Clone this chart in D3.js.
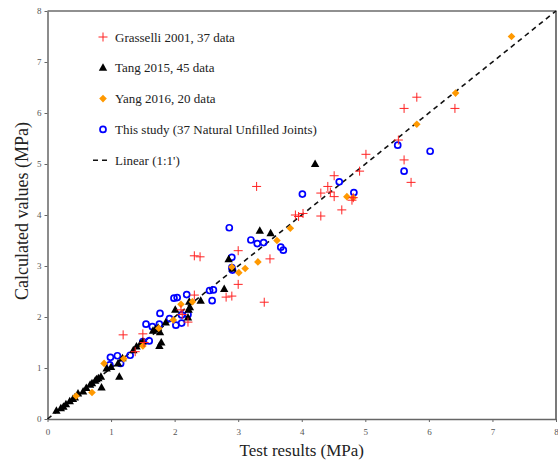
<!DOCTYPE html>
<html>
<head>
<meta charset="utf-8">
<script src="https://cdn.jsdelivr.net/npm/d3@7"></script>
<style>
  body { margin: 0; background: #fff; }
  svg { display: block; }
  svg text { font-family: 'Liberation Serif', serif; }
</style>
</head>
<body>
<svg id="chart" width="558" height="463"></svg>
<script>
// data (test result, calculated value) in MPa
const grasselli = [
  [5.81, 6.31], [5.61, 6.09], [6.41, 6.09], [5.52, 5.47], [5.01, 5.19], [5.61, 5.08],
  [4.91, 4.86], [4.51, 4.77], [4.41, 4.56], [5.72, 4.64], [4.30, 4.43], [4.51, 4.36],
  [3.29, 4.56], [4.63, 4.10], [4.30, 3.98], [4.02, 4.03], [3.90, 4.00], [4.79, 4.29],
  [3.00, 3.30], [3.50, 3.14], [3.00, 2.64], [2.81, 2.39], [2.90, 2.41], [3.41, 2.29],
  [2.31, 3.20], [2.40, 3.18], [2.31, 2.43], [2.10, 2.14], [2.21, 1.90], [1.19, 1.65],
  [1.50, 1.67], [1.38, 1.32], [4.81, 4.34], [2.12, 2.05], [1.52, 1.50], [4.45, 4.45],
  [3.95, 3.97]
];
const tang = [
  [0.14, 0.16], [0.21, 0.21], [0.25, 0.24], [0.29, 0.29], [0.35, 0.35], [0.40, 0.39],
  [0.43, 0.42], [0.48, 0.50], [0.56, 0.54], [0.61, 0.61], [0.67, 0.67], [0.70, 0.70],
  [0.75, 0.75], [0.77, 0.78], [0.80, 0.80], [0.84, 0.83], [0.85, 0.62], [0.93, 0.99],
  [1.00, 1.02], [1.11, 1.09], [1.13, 0.83], [1.18, 1.19], [1.35, 1.35], [1.40, 1.42],
  [1.46, 1.47], [1.50, 1.52], [1.66, 1.73], [1.70, 1.76], [1.74, 1.79], [1.76, 1.43],
  [1.79, 1.50], [1.77, 1.70], [1.86, 1.89], [2.01, 2.14], [2.21, 1.99], [2.22, 2.14],
  [2.23, 2.30], [2.24, 2.19], [2.41, 2.32], [2.78, 2.55], [2.85, 3.13], [2.91, 2.95],
  [3.34, 3.69], [3.51, 3.64], [4.21, 5.00]
];
const yang = [
  [7.30, 7.50], [6.42, 6.39], [5.81, 5.78], [4.71, 4.36], [4.81, 4.34], [3.82, 3.74],
  [3.61, 3.50], [3.31, 3.08], [3.11, 2.95], [3.01, 2.87], [2.10, 2.25], [1.98, 1.94],
  [1.50, 1.43], [0.89, 1.09], [0.70, 0.52], [1.75, 1.78], [1.20, 1.18], [0.45, 0.45],
  [2.28, 2.30], [2.90, 2.98]
];
const thisStudy = [
  [4.01, 4.41], [4.59, 4.65], [4.82, 4.44], [5.51, 5.37], [6.02, 5.25], [5.61, 4.86],
  [2.86, 3.75], [3.20, 3.51], [3.30, 3.44], [3.40, 3.46], [3.67, 3.37], [3.71, 3.31],
  [2.90, 3.17], [2.90, 2.97], [2.91, 2.92], [2.55, 2.52], [2.61, 2.53], [2.59, 2.32],
  [2.19, 2.44], [1.99, 2.37], [2.04, 2.38], [1.77, 2.07], [1.92, 1.97], [2.11, 2.04],
  [2.21, 2.05], [2.02, 1.84], [2.11, 1.88], [1.55, 1.86], [1.65, 1.81], [1.76, 1.86],
  [1.60, 1.53], [1.50, 1.52], [1.30, 1.25], [1.10, 1.24], [0.99, 1.21], [0.98, 1.06],
  [1.15, 1.09]
];
const ticks = [0, 1, 2, 3, 4, 5, 6, 7, 8];
const legendLabels = [
  "Grasselli 2001, 37 data",
  "Tang 2015, 45 data",
  "Yang 2016, 20 data",
  "This study (37 Natural Unfilled Joints)",
  "Linear (1:1')"
];

const svg = d3.select("#chart");
const m = { left: 47.5, right: 556, top: 11, bottom: 419 };
const serif = "'Liberation Serif', serif";

const x = d3.scaleLinear().domain([0, 8]).range([m.left, m.right]);
const y = d3.scaleLinear().domain([0, 8]).range([m.bottom, m.top]);

// frame (top and right edges)
svg.append("path")
  .attr("d", `M${m.left},${m.top}H${m.right}V${m.bottom}`)
  .attr("fill", "none")
  .attr("stroke", "#222")
  .attr("stroke-width", 1.2);

const xAxis = svg.append("g")
  .attr("transform", `translate(0,${m.bottom})`)
  .call(d3.axisBottom(x).tickValues(ticks).tickSize(3).tickPadding(7).tickSizeOuter(0));
const yAxis = svg.append("g")
  .attr("transform", `translate(${m.left},0)`)
  .call(d3.axisLeft(y).tickValues(ticks).tickSize(3).tickPadding(3).tickSizeOuter(0));

[xAxis, yAxis].forEach(g => {
  g.attr("font-family", serif);
  g.select(".domain").attr("stroke", "#666").attr("stroke-width", 1.5);
  g.selectAll(".tick line").attr("stroke", "#666");
  g.selectAll(".tick text")
    .attr("fill", "#555")
    .style("font-family", serif)
    .style("font-size", "9px");
});

// axis titles
svg.append("text")
  .attr("x", (m.left + m.right) / 2)
  .attr("y", 456)
  .attr("text-anchor", "middle")
  .style("font-family", serif)
  .style("font-size", "17px")
  .attr("fill", "#222")
  .text("Test results (MPa)");

svg.append("text")
  .attr("transform", "translate(28,211) rotate(-90)")
  .attr("text-anchor", "middle")
  .style("font-family", serif)
  .style("font-size", "18px")
  .attr("fill", "#222")
  .text("Calculated values (MPa)");

// 1:1 line
svg.append("line")
  .attr("x1", x(0)).attr("y1", y(0))
  .attr("x2", x(8)).attr("y2", y(8))
  .attr("stroke", "#111")
  .attr("stroke-width", 1.6)
  .attr("stroke-dasharray", "5,4");

// marker drawers
const plus = (g, cx, cy) => g.append("path")
  .attr("d", `M${cx - 4.5},${cy}H${cx + 4.5}M${cx},${cy - 4.5}V${cy + 4.5}`)
  .attr("stroke", "#f22").attr("stroke-width", 1).attr("fill", "none");
const tri = (g, cx, cy) => g.append("path")
  .attr("d", `M${cx},${cy - 4.5}L${cx + 4.2},${cy + 3}L${cx - 4.2},${cy + 3}Z`)
  .attr("fill", "#000");
const diamond = (g, cx, cy) => g.append("path")
  .attr("d", `M${cx},${cy - 3.8}L${cx + 3.8},${cy}L${cx},${cy + 3.8}L${cx - 3.8},${cy}Z`)
  .attr("fill", "#f90");
const ring = (g, cx, cy) => g.append("circle")
  .attr("cx", cx).attr("cy", cy).attr("r", 3)
  .attr("fill", "none").attr("stroke", "#00f").attr("stroke-width", 1.7);

const pts = svg.append("g");
thisStudy.forEach(d => ring(pts, x(d[0]), y(d[1])));
tang.forEach(d => tri(pts, x(d[0]), y(d[1])));
yang.forEach(d => diamond(pts, x(d[0]), y(d[1])));
grasselli.forEach(d => plus(pts, x(d[0]), y(d[1])));

// legend
const leg = svg.append("g");
const drawers = [plus, tri, diamond, ring];
legendLabels.forEach((t, i) => {
  const ly = 37 + i * 30.8;
  if (i < 4) drawers[i](leg, 103, ly);
  else leg.append("line")
    .attr("x1", 93).attr("x2", 110).attr("y1", ly).attr("y2", ly)
    .attr("stroke", "#111").attr("stroke-width", 1.6).attr("stroke-dasharray", "5,4");
  leg.append("text")
    .attr("x", 115).attr("y", ly + 4.5)
    .style("font-family", serif)
    .style("font-size", "13px")
    .attr("fill", "#222")
    .text(t);
});
</script>
</body>
</html>
